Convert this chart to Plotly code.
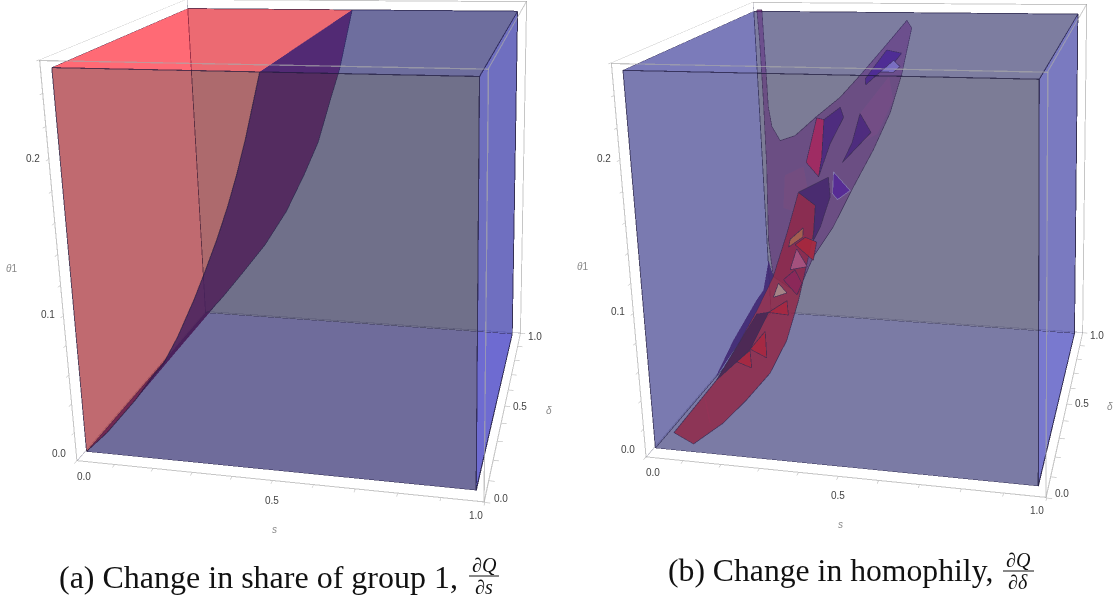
import numpy as np
import plotly.graph_objects as go

# ---- axis ranges / ticks
S_RANGE=[0,1]; D_RANGE=[0,1]; T_RANGE=[0,0.26]
S_TICKS=[round(i*.1,1) for i in range(11)]
T_TICKS=[round(i*.02,2) for i in range(14)]
S_LABELS=[(0.0,"0.0",8,-15),(0.5,"0.5",0,-19),(1.0,"1.0",-9,-13)]
D_LABELS=[(0.0,"0.0",16,4),(0.5,"0.5",15,0),(1.0,"1.0",14,-3)]
T_LABELS=[(0.0,"0.0",-17,8),(0.1,"0.1",-15,2),(0.2,"0.2",-15,1)]
# ---- inner box of the regions
S0,S1=0.005,0.975; D0,D1=0.05,0.99; TOP=0.253
# ---- left panel: boundary surface, (s, theta) along the front wall and the back wall
CF_S=[.497,.479,.457,.432,.408,.378,.343,.313,.267,.226,.197,.146,.064,.005]
CF_T=[.253,.235,.213,.191,.172,.151,.129,.111,.086,.067,.058,.040,.015,0]
CB_S=[.504,.463,.434,.392,.345,.285,.213,.140,.065,.020,.005]
CB_T=[.253,.208,.185,.150,.123,.092,.063,.039,.015,.002,0]
# ---- right panel: polygons read as (s, theta) on the mid plane delta=.5
POLY={
'sheet':"186,273 200,273 202,234 203,206 210,192 231,182 274,186 336,200 403,214 468,232 533,251 587,267 599,262 570,231 536,204 488,178 430,151 369,121 309,98 277,80 261,69 190,81 182,108 189,163 190,210 189,252",
'p1':"455,203 536,229 545,213 500,189 464,184",
'p2':"239,157 293,164 302,147 257,131 230,133",
'band':"275,145 321,136 312,115 289,92 260,64 219,32 164,5 89,-18 12,-39 -86,-59 -145,-51 1,-4 80,29 136,54 190,81 236,114",
'sliver':"179,93 159,70 137,62 60,29 -4,-3 80,29 136,54 190,81",
'dk':"135,51 170,53 109,23 66,12 1,-4",
'f1r':"336,199 356,198 345,171 334,157 301,167",
'f1p':"356,198 402,207 410,200 370,181 334,157 345,171",
'f2':"455,203 483,190 402,168 430,182",
'f3':"532,247 571,245 549,238 566,236 548,232 513,232 473,223 472,227",
'f3b':"549,240 566,236 548,232 513,232",
'f4':"275,145 361,157 364,143 332,120 311,110 321,136",
'f5':"376,161 420,148 384,141 371,145",
'f6':"239,104 245,110 284,119 281,112",
'f7':"258,106 288,112 320,109 308,95",
'f8':"240,87 262,103 290,90",
'f9':"219,79 254,87 272,77 256,68",
'f10':"204,76 187,65 227,69",
't1':"109,23 157,38 157,17",
't2':"66,12 108,22 110,8",
't3':"170,53 226,63 228,52",
}
POLY_STYLE={'sheet':("rgb(107,0,110)",.55),'p1':("rgb(190,70,150)",.3),'p2':("rgb(190,70,110)",.25),'band':("rgb(207,0,22)",.85),'sliver':("rgb(50,0,108)",.9),'dk':("rgb(60,0,48)",.9),
'f1r':("rgb(250,0,68)",.9),'f1p':("rgb(70,0,128)",.9),'f2':("rgb(70,0,128)",.9),'f3':("rgb(70,0,158)",.9),'f3b':("rgb(170,150,255)",.9),
'f4':("rgb(60,0,98)",.9),'f5':("rgb(90,0,178)",.9),'f6':("rgb(255,120,38)",.9),'f7':("rgb(255,0,0)",.9),'f8':("rgb(255,90,138)",.9),
'f9':("rgb(200,0,58)",.9),'f10':("rgb(255,200,158)",.9),'t1':("rgb(255,0,8)",.9),'t2':("rgb(255,0,8)",.9),'t3':("rgb(255,0,8)",.9)}
# ---- cameras  (eye, center, up-x, up-y, aspect x,y,  viewport H, cx, cy)
PL=[0.7638,-2.9476,0.9880,0.6258,-2.3926,0.8230,-0.2320,1.0799,1.0020,0.9700,1010.7210,326.0237,176.8519]
PR=[0.7863,-2.9931,1.0190,0.6255,-2.3493,0.8443,-0.2321,1.0796,0.9982,0.9497,1014.0201,891.8273,141.7010]
W,HF,TS=1200,1050,366

LIT=dict(ambient=1,diffuse=0,specular=0,roughness=1,fresnel=0)
DARK="rgb(30,25,60)"
fig=go.Figure()
def earclip(P):
    P=np.array(P,float);n=len(P);idx=list(range(n));tri=[]
    area=0.5*sum(P[i,0]*P[(i+1)%n,1]-P[(i+1)%n,0]*P[i,1] for i in range(n))
    sg=1 if area>0 else -1
    def cross(a,b,c):return (b[0]-a[0])*(c[1]-a[1])-(b[1]-a[1])*(c[0]-a[0])
    guard=0
    while len(idx)>3 and guard<5000:
        guard+=1;m=len(idx);done=False
        for q in range(m):
            a,b,c=idx[q-1],idx[q],idx[(q+1)%m]
            if sg*cross(P[a],P[b],P[c])<=1e-12: continue
            ok=True
            for o in idx:
                if o in(a,b,c):continue
                if sg*cross(P[a],P[b],P[o])>=0 and sg*cross(P[b],P[c],P[o])>=0 and sg*cross(P[c],P[a],P[o])>=0:
                    ok=False;break
            if ok:
                tri.append((a,b,c));idx.pop(q);done=True;break
        if not done:
            idx.pop(0)
    if len(idx)==3:tri.append(tuple(idx))
    return tri
def mesh(sc,xyz,tri,color,op):
    xyz=np.array(xyz);t=np.array(tri)
    fig.add_trace(go.Mesh3d(x=xyz[:,0],y=xyz[:,1],z=xyz[:,2],i=t[:,0],j=t[:,1],k=t[:,2],color=color,opacity=op,flatshading=True,lighting=LIT,hoverinfo="skip",showscale=False,scene=sc))
def poly(sc,xyz,uv,color,op=.5):
    mesh(sc,xyz,earclip(uv),color,op)
UNIT=[(0,0),(1,0),(1,1),(0,1)]
def ribbon(sc,paths,color=DARK,op=.7,wpx=1.0):
    # thin strips drawn as translucent mesh so they composite in trace order
    V=[];Tr=[]
    for pts in paths:
        for P,Q in zip(pts[:-1],pts[1:]):
            P=np.array(P,float);Q=np.array(Q,float)
            a=(Q[0]-P[0])/.0025;b=(Q[2]-P[2])/.00065
            L=np.hypot(a,b)
            if L<1e-6:
                n=np.array([.0025,0,0])
            else:
                n=np.array([-b/L*.0025,0,a/L*.00065])
            n=n*wpx/2
            k=len(V)
            for v in (P-n,P+n,Q+n,Q-n):
                V.append(np.clip(v,[0,0,0],[1,1,.26]))
            Tr+= [(k,k+1,k+2),(k,k+2,k+3)]
    mesh(sc,V,Tr,color,op)
def frame_back(sc):
    a,b=S_RANGE;c,d=D_RANGE;e,f=T_RANGE
    ribbon(sc,[[(b,d,e),(a,d,e),(a,c,e)],[(a,d,e),(a,d,f)]],"rgb(150,150,165)",.8,1.6)
def frame_front(sc):
    a,b=S_RANGE;c,d=D_RANGE;e,f=T_RANGE
    ribbon(sc,[[(a,c,e),(b,c,e),(b,d,e)],[(a,c,f),(a,d,f),(b,d,f),(b,c,f)],[(a,c,f),(b,c,f)],[(a,c,e),(a,c,f)],[(b,c,e),(b,c,f)],[(b,d,e),(b,d,f)]],"rgb(170,170,170)",.68,2.2)
def box_back(sc):
    ribbon(sc,[[(S0,D0,0),(S0,D1,0),(S1,D1,0),(S1,D0,0)],[(S0,D0,TOP),(S0,D1,TOP),(S1,D1,TOP),(S1,D0,TOP)],[(S0,D1,0),(S0,D1,TOP)],[(S1,D1,0),(S1,D1,TOP)]],DARK,.85,1.1)
def box_front(sc):
    ribbon(sc,[[(S0,D0,0),(S1,D0,0),(S1,D0,TOP),(S0,D0,TOP),(S0,D0,0)]],DARK,.72,1.0)

# ---- LEFT (translucent pieces composite back to front in trace order)
cf=list(zip(CF_S,CF_T));cb=list(zip(CB_S,CB_T))
Vf=[(s,D0,t) for s,t in cf];Vb=[(s,D1,t) for s,t in cb]
frame_back("scene")
RUP_F=[(S0,D0,0)]+[(s,D0,t) for s,t in cf[::-1]][1:]+[(S0,D0,TOP)]
RUV_F=[(S0,0)]+[(s,t) for s,t in cf[::-1]][1:]+[(S0,TOP)]
RUP_B=[(S0,D1,0)]+[(s,D1,t) for s,t in cb[::-1]][1:]+[(S0,D1,TOP)]
RUV_B=[(S0,0)]+[(s,t) for s,t in cb[::-1]][1:]+[(S0,TOP)]
poly("scene",RUP_B,RUV_B,"rgb(179,57,59)")
poly("scene",[(S1,D1,0),(S1,D1,TOP)]+[(s,D1,t) for s,t in cb],[(S1,0),(S1,TOP)]+cb,"rgb(64,64,100)")
poly("scene",[(S0,D0,0),(S1,D0,0),(S1,D1,0),(S0,D1,0)],UNIT,"rgb(60,48,168)")
poly("scene",[(S0,D0,0),(S0,D1,0),(S0,D1,TOP),(S0,D0,TOP)],UNIT,"rgb(255,56,71)")
poly("scene",[(S1,D0,0),(S1,D1,0),(S1,D1,TOP),(S1,D0,TOP)],UNIT,"rgb(62,62,206)")
box_back("scene")
xyz=Vf+Vb;tri=[];i=j=0;nf=len(Vf)
while i<len(Vf)-1 or j<len(Vb)-1:
    if j==len(Vb)-1 or (i<len(Vf)-1 and CF_T[i+1]>=CB_T[j+1]):
        tri.append((i,i+1,nf+j));i+=1
    else:
        tri.append((i,nf+j+1,nf+j));j+=1
mesh("scene",xyz,tri,"rgb(83,0,82)",.85)
ribbon("scene",[Vb],DARK,.8,1.0)
poly("scene",[(S0,D0,TOP),(CF_S[0],D0,TOP),(CB_S[0],D1,TOP),(S0,D1,TOP)],UNIT,"rgb(255,56,71)")
poly("scene",[(CF_S[0],D0,TOP),(S1,D0,TOP),(S1,D1,TOP),(CB_S[0],D1,TOP)],UNIT,"rgb(60,60,138)")
poly("scene",RUP_F,RUV_F,"rgb(129,56,61)")
poly("scene",[(S1,D0,0),(S1,D0,TOP)]+[(s,D0,t) for s,t in cf],[(S1,0),(S1,TOP)]+cf,"rgb(64,64,98)")
ribbon("scene",[Vf],DARK,.6,1.0)
box_front("scene")
frame_front("scene")

# ---- RIGHT
def sheet_pts(txt,layer):
    a=np.array([0.9982,0.9497,1.0]);eye=np.array(PR[:3])
    out=[];uv=[]
    for tok in txt.split():
        s,t=[int(v)/1000 for v in tok.split(",")]
        P=(np.array([s,.5,t/.26])-.5)*a
        d=P-eye
        A=.1-layer*.004;B=3.5
        num=A+B*.26*(eye[2]+.5)-(eye[1]/a[1]+.5)
        den=d[1]/a[1]-B*.26*d[2]
        X=eye+d*(num/den)
        q=X/a+.5
        out.append((q[0],q[1],q[2]*.26));uv.append((s,t))
    return out,uv
frame_back("scene2")
poly("scene2",[(S0,D1,0),(S1,D1,0),(S1,D1,TOP),(S0,D1,TOP)],UNIT,"rgb(80,80,100)")
poly("scene2",[(S0,D0,0),(S0,D1,0),(S0,D1,TOP),(S0,D0,TOP)],UNIT,"rgb(72,72,204)")
poly("scene2",[(S0,D0,0),(S1,D0,0),(S1,D1,0),(S0,D1,0)],UNIT,"rgb(76,76,160)")
poly("scene2",[(S1,D0,0),(S1,D1,0),(S1,D1,TOP),(S1,D0,TOP)],UNIT,"rgb(76,76,206)")
box_back("scene2")
for n,(name,txt) in enumerate(POLY.items()):
    o,uv=sheet_pts(txt,n);c,op=POLY_STYLE[name]
    poly("scene2",o,uv,c,op)
    if name not in("sliver","p1","p2"):
        col="rgb(200,195,240)" if name=="f5" else "rgb(35,10,45)"
        ribbon("scene2",[o+o[:1]],col,.75,.9)
slash,_=sheet_pts("-39,-20 -29,-40",30)
ribbon("scene2",[slash],"rgb(220,20,50)",.85,1.2)
poly("scene2",[(S0,D0,TOP),(S1,D0,TOP),(S1,D1,TOP),(S0,D1,TOP)],UNIT,"rgb(82,82,142)")
poly("scene2",[(S0,D0,0),(S1,D0,0),(S1,D0,TOP),(S0,D0,TOP)],UNIT,"rgb(80,80,122)")
box_front("scene2")
frame_front("scene2")

def ax(r,tv):
    return dict(range=r,showbackground=False,showgrid=False,zeroline=False,showspikes=False,showline=False,title="",ticks="inside",ticklen=4,tickcolor="#b8b8b8",tickwidth=1.2,
        tickvals=tv,showticklabels=False)
def tick_notes():
    f=dict(size=10,color="#444",family="Liberation Sans")
    out=[]
    for v,t,xs,ys in S_LABELS: out.append(dict(x=v,y=0,z=0,text=t,xshift=xs,yshift=ys,showarrow=False,font=f))
    for v,t,xs,ys in D_LABELS: out.append(dict(x=1,y=v,z=0,text=t,xshift=xs,yshift=ys,showarrow=False,font=f))
    for v,t,xs,ys in T_LABELS: out.append(dict(x=0,y=0,z=v,text=t,xshift=xs,yshift=ys,showarrow=False,font=f))
    return out
for sc,p,half in (("scene",PL,326.02),("scene2",PR,300.)):
    H,cx,cy=p[10:13]
    top=cy+TS-H/2;bot=cy+TS+H/2
    fig.update_layout({sc:dict(domain=dict(x=[(cx-half)/W,(cx+half)/W],y=[1-bot/HF,1-top/HF]),
        camera=dict(eye=dict(x=p[0],y=p[1],z=p[2]),center=dict(x=p[3],y=p[4],z=p[5]),up=dict(x=p[6],y=p[7],z=1)),
        aspectmode="manual",aspectratio=dict(x=p[8],y=p[9],z=1),bgcolor="rgba(0,0,0,0)",annotations=tick_notes(),
        xaxis=ax(S_RANGE,S_TICKS),yaxis=ax(D_RANGE,S_TICKS),zaxis=ax(T_RANGE,T_TICKS))})
def label(px,py,text,size=10,color="#888",family="Liberation Sans",anchor="center"):
    fig.add_annotation(x=px/W,y=1-(py+TS)/HF,xref="paper",yref="paper",xanchor=anchor,yanchor="middle",text=text,showarrow=False,font=dict(size=size,color=color,family=family))
label(11,268,"<i>θ</i>1");label(549,410,"<i>δ</i>");label(274,529,"<i>s</i>")
label(582,266,"<i>θ</i>1");label(1110,406,"<i>δ</i>");label(840,524,"<i>s</i>")
SF="Liberation Serif"
label(57,577,"(a) Change in share of group 1,",32,"#111",SF,"left")
label(484,565,"<i>∂Q</i>",20,"#111",SF);label(484,587,"<i>∂s</i>",20,"#111",SF)
label(666,570,"(b) Change in homophily,",31.7,"#111",SF,"left")
label(1018,560,"<i>∂Q</i>",20,"#111",SF);label(1018,582,"<i>∂δ</i>",20,"#111",SF)
for x0,x1,y in((469,499,576),(1003,1034,571)):
    fig.add_shape(type="line",xref="paper",yref="paper",x0=x0/W,x1=x1/W,y0=1-(y+TS)/HF,y1=1-(y+TS)/HF,line=dict(color="#111",width=1))
fig.update_layout(width=W,height=HF,margin=dict(l=0,r=0,t=0,b=0,pad=0),showlegend=False,paper_bgcolor="white",plot_bgcolor="white")
fig.write_html("out.html",post_script="document.documentElement.style.overflow='hidden';document.body.style.margin='0';document.body.style.overflow='hidden';document.getElementById('{plot_id}').style.marginTop='-%dpx';"%TS)
